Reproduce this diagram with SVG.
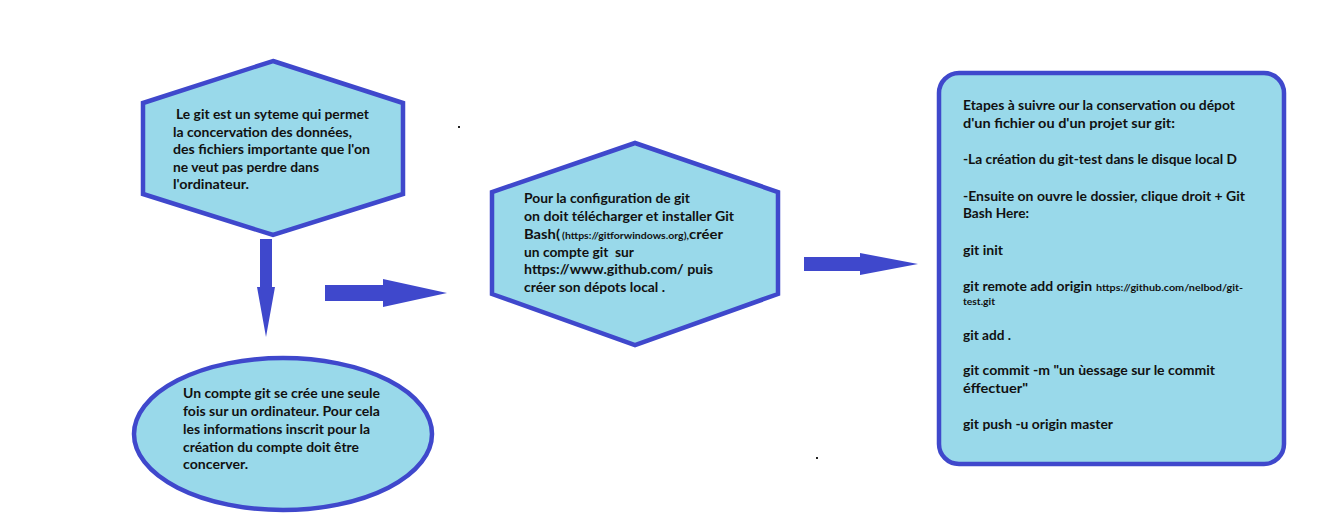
<svg xmlns="http://www.w3.org/2000/svg" width="1341" height="523" viewBox="0 0 1341 523">
<style>
.shape{fill:#99D9EA;stroke:#3F48CC;stroke-width:4.5}
.t{font-family:Lato,"Open Sans","Liberation Sans",sans-serif;font-size:14px;font-weight:bold;fill:#111}
.s{font-size:9.5px}
.arrow{fill:#3F48CC}
</style>
<rect width="1341" height="523" fill="#fff"/>
<g id="node-hex1">
<polygon class="shape" points="273,61 403,103 403,194 273,235 143,194 143,103"/>
<text class="t" x="176" y="119" textLength="193" lengthAdjust="spacingAndGlyphs">Le git est un syteme qui permet</text>
<text class="t" x="173" y="136.5" textLength="179" lengthAdjust="spacingAndGlyphs">la concervation des données,</text>
<text class="t" x="173" y="154" textLength="197" lengthAdjust="spacingAndGlyphs">des fichiers importante que l'on</text>
<text class="t" x="173" y="171.5" textLength="146" lengthAdjust="spacingAndGlyphs">ne veut pas perdre dans</text>
<text class="t" x="173" y="189" textLength="76" lengthAdjust="spacingAndGlyphs">l'ordinateur.</text>
</g>
<g id="node-ellipse">
<ellipse class="shape" cx="283" cy="434" rx="149" ry="76"/>
<text class="t" x="183" y="398" textLength="197" lengthAdjust="spacingAndGlyphs">Un compte git se crée une seule</text>
<text class="t" x="183" y="416" textLength="197" lengthAdjust="spacingAndGlyphs">fois sur un ordinateur. Pour cela</text>
<text class="t" x="183" y="433.5" textLength="187" lengthAdjust="spacingAndGlyphs">les informations inscrit pour la</text>
<text class="t" x="183" y="451.5" textLength="176" lengthAdjust="spacingAndGlyphs">création du compte doit être</text>
<text class="t" x="183" y="468.5" textLength="65" lengthAdjust="spacingAndGlyphs">concerver.</text>
</g>
<g id="node-hex2">
<polygon class="shape" points="635,143 778,192 778,294 635,345 492,294 492,192"/>
<text class="t" x="524" y="203" textLength="166" lengthAdjust="spacingAndGlyphs">Pour la configuration de git</text>
<text class="t" x="524" y="221" textLength="210" lengthAdjust="spacingAndGlyphs">on doit télécharger et installer Git</text>
<text class="t" x="524" y="239"><tspan textLength="36" lengthAdjust="spacingAndGlyphs">Bash(</tspan><tspan class="s" x="562" textLength="127" lengthAdjust="spacingAndGlyphs">(https://gitforwindows.org),</tspan><tspan x="689" textLength="34" lengthAdjust="spacingAndGlyphs">créer</tspan></text>
<text class="t" x="524" y="257" textLength="110" lengthAdjust="spacingAndGlyphs">un compte git&#160; sur</text>
<text class="t" x="524" y="274" textLength="189" lengthAdjust="spacingAndGlyphs">https://www.github.com/ puis</text>
<text class="t" x="524" y="292" textLength="141" lengthAdjust="spacingAndGlyphs">créer son dépots local .</text>
</g>
<g id="node-steps">
<rect class="shape" x="939" y="73" width="345" height="391" rx="20" ry="20"/>
<text class="t" x="963" y="110" textLength="272" lengthAdjust="spacingAndGlyphs">Etapes à suivre our la conservation ou dépot</text>
<text class="t" x="963" y="128" textLength="212" lengthAdjust="spacingAndGlyphs">d'un fichier ou d'un projet sur git:</text>
<text class="t" x="963" y="164" textLength="274" lengthAdjust="spacingAndGlyphs">-La création du git-test dans le disque local D</text>
<text class="t" x="963" y="201" textLength="282" lengthAdjust="spacingAndGlyphs">-Ensuite on ouvre le dossier, clique droit + Git</text>
<text class="t" x="963" y="218" textLength="66" lengthAdjust="spacingAndGlyphs">Bash Here:</text>
<text class="t" x="963" y="255" textLength="40" lengthAdjust="spacingAndGlyphs">git init</text>
<text class="t" x="963" y="291"><tspan textLength="129" lengthAdjust="spacingAndGlyphs">git remote add origin</tspan><tspan class="s" x="1096" textLength="147" lengthAdjust="spacingAndGlyphs">https://github.com/nelbod/git-</tspan></text>
<text class="t s" x="963" y="305" textLength="32" lengthAdjust="spacingAndGlyphs">test.git</text>
<text class="t" x="963" y="340" textLength="48" lengthAdjust="spacingAndGlyphs">git add .</text>
<text class="t" x="963" y="375" textLength="252" lengthAdjust="spacingAndGlyphs">git commit -m "un ùessage sur le commit</text>
<text class="t" x="963" y="393" textLength="65" lengthAdjust="spacingAndGlyphs">éffectuer"</text>
<text class="t" x="963" y="429" textLength="150" lengthAdjust="spacingAndGlyphs">git push -u origin master</text>
</g>
<g id="connectors">
<polygon class="arrow" points="260,239 272,239 272,287 275,287 266,337 257,287 260,287"/>
<polygon class="arrow" points="325,285 383,285 383,279 447,293 383,307 383,301 325,301"/>
<polygon class="arrow" points="804,257 860,257 860,253 918,264 860,275 860,271 804,271"/>
</g>
<rect x="458" y="126" width="2" height="2" fill="#222"/>
<rect x="816" y="457" width="2" height="2" fill="#222"/>
</svg>
